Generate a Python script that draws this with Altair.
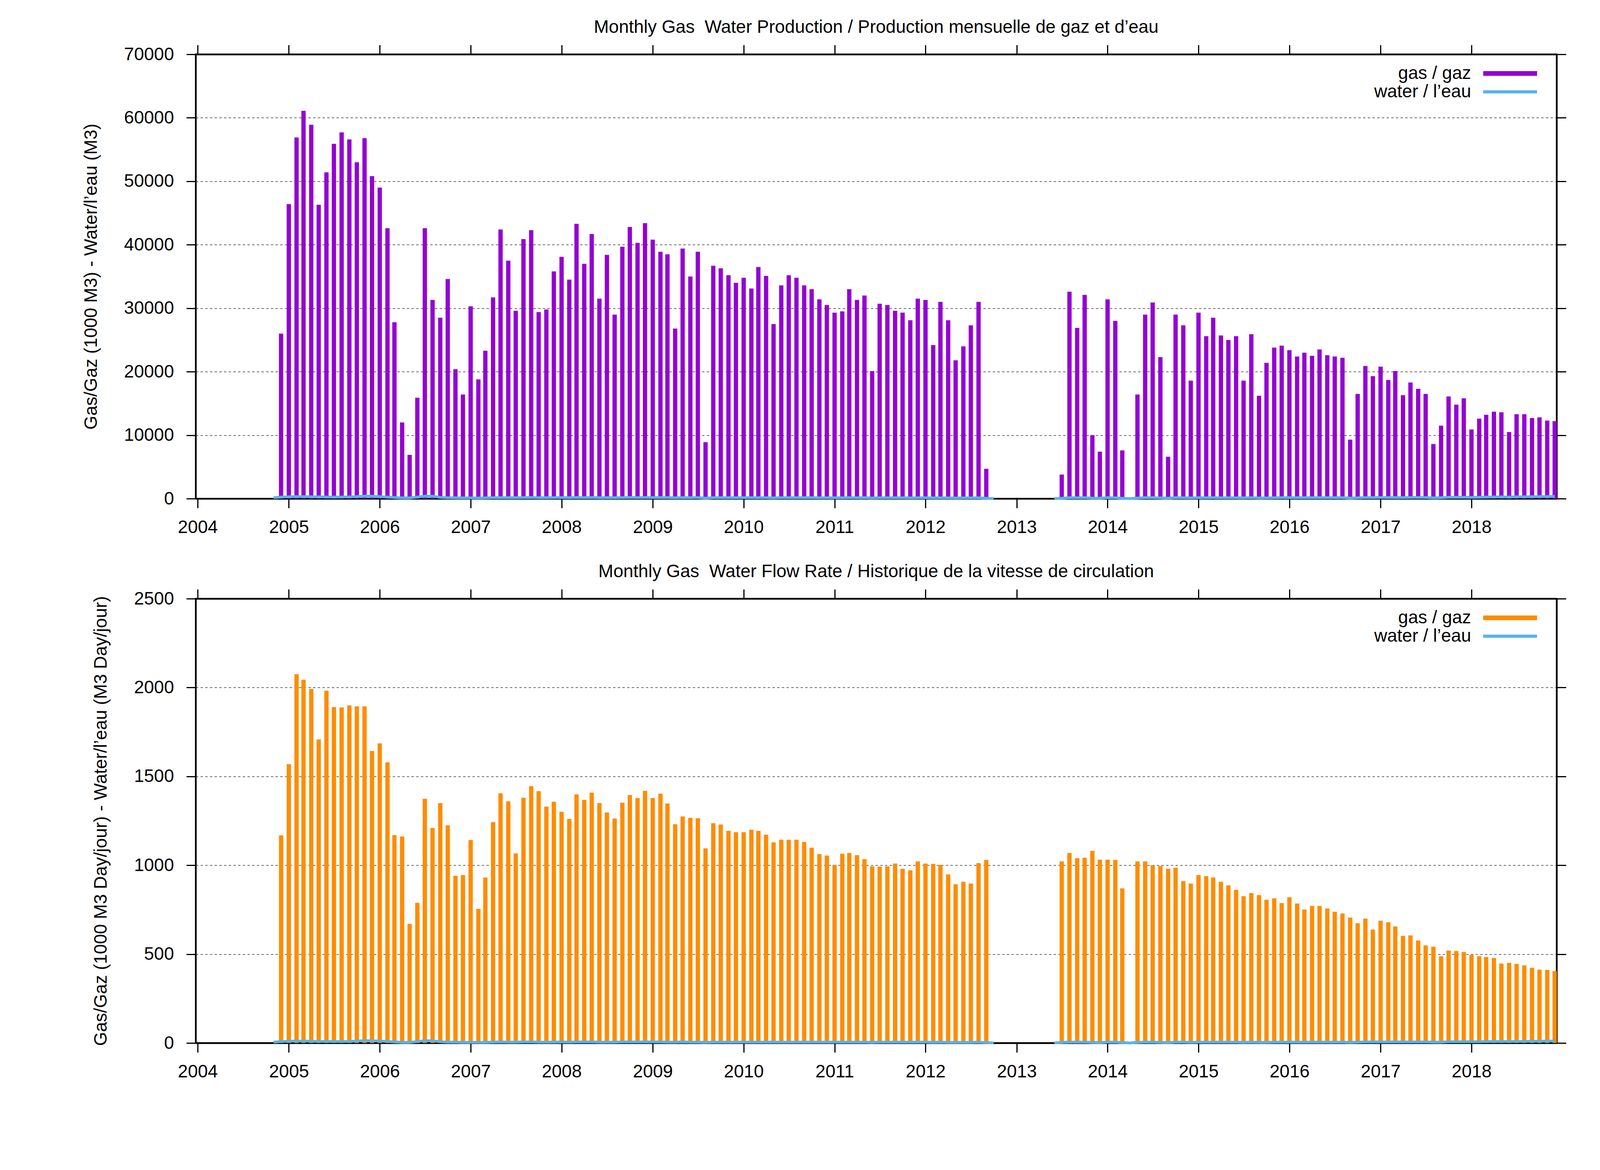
import pandas as pd
import altair as alt


# ── Data ───────────────────────────────────────────────────────────────────────

# one row per month, Nov 2004 .. Dec 2018
MONTHS = [f'{y}-{m:02d}-01' for y in range(2004, 2019) for m in range(1, 13)][10:]

# gas production, 1000 m3 (None = not reported)
GAS_PROD = [
    0, 26000,                                                                       # 2004 Nov-Dec
    46400, 56900, 61100, 58900, 46300, 51400, 55900, 57700, 56600, 53000, 56800, 50800,  # 2005
    49000, 42600, 27800, 12000, 6900, 15900, 42600, 31300, 28500, 34600, 20400, 16400,   # 2006
    30300, 18800, 23300, 31700, 42400, 37500, 29600, 40900, 42300, 29400, 29800, 35800,  # 2007
    38100, 34500, 43300, 37000, 41700, 31500, 38400, 29000, 39700, 42800, 40300, 43400,  # 2008
    40800, 38900, 38500, 26800, 39400, 35000, 38900, 8900, 36700, 36300, 35200, 34000,   # 2009
    34800, 33100, 36500, 35100, 27500, 33600, 35200, 34800, 33600, 33000, 31400, 30500,  # 2010
    29300, 29500, 33000, 31300, 32000, 20100, 30700, 30500, 29600, 29300, 28100, 31500,  # 2011
    31300, 24200, 31000, 28100, 21800, 24000, 27300, 31000, 4700, 0, None, None,         # 2012
    None, None, None, None, None, 0, 3800, 32600, 26900, 32100, 10000, 7400,             # 2013
    31400, 28000, 7600, 0, 16400, 29000, 30900, 22300, 6600, 29000, 27300, 18600,        # 2014
    29300, 25600, 28500, 25700, 25000, 25600, 18600, 25900, 16200, 21400, 23800, 24100,  # 2015
    23400, 22400, 23000, 22500, 23500, 22600, 22400, 22200, 9300, 16500, 20900, 19300,   # 2016
    20800, 18700, 20100, 16300, 18300, 17300, 16500, 8600, 11500, 16100, 14800, 15800,   # 2017
    10900, 12600, 13200, 13700, 13600, 10500, 13300, 13300, 12700, 12800, 12300, 12200,  # 2018
]

# water production, m3
WATER_PROD = [
    150, 250,
    300, 320, 330, 300, 280, 260, 250, 260, 280, 330, 420, 380,
    330, 250, 180, 120, 120, 250, 400, 380, 200, 150, 140, 130,
    120, 110, 130, 150, 170, 160, 150, 170, 180, 160, 160, 170,
    170, 160, 180, 170, 180, 160, 170, 150, 170, 180, 170, 180,
    170, 170, 170, 140, 170, 160, 170, 80, 160, 160, 160, 150,
    150, 150, 160, 160, 130, 150, 160, 150, 150, 150, 140, 140,
    140, 140, 150, 140, 150, 110, 140, 140, 140, 140, 130, 140,
    140, 120, 140, 130, 110, 120, 130, 140, 60, 0, None, None,
    None, None, None, None, None, 0, 60, 160, 140, 160, 90, 70,
    160, 140, 60, 0, 110, 150, 160, 130, 70, 150, 140, 120,
    150, 140, 150, 140, 140, 140, 120, 150, 110, 130, 140, 150,
    150, 150, 150, 150, 160, 160, 160, 160, 100, 140, 170, 170,
    180, 170, 190, 170, 190, 190, 190, 130, 160, 210, 210, 220,
    200, 220, 240, 260, 270, 250, 290, 300, 310, 330, 340, 350,
]

# gas flow rate, 1000 m3/day
GAS_RATE = [
    0, 1168,
    1569, 2075, 2044, 1992, 1708, 1982, 1890, 1888, 1900, 1894, 1894, 1643,
    1686, 1579, 1170, 1162, 670, 789, 1374, 1210, 1350, 1225, 941, 945,
    1142, 755, 931, 1243, 1405, 1360, 1067, 1380, 1445, 1417, 1330, 1358,
    1301, 1261, 1399, 1368, 1409, 1350, 1297, 1263, 1352, 1395, 1378, 1419,
    1378, 1403, 1348, 1231, 1275, 1267, 1265, 1095, 1237, 1229, 1194, 1186,
    1186, 1200, 1194, 1172, 1129, 1144, 1144, 1144, 1131, 1099, 1063, 1055,
    1002, 1065, 1069, 1057, 1034, 994, 992, 994, 1010, 980, 972, 1022,
    1010, 1008, 1002, 949, 893, 907, 897, 1012, 1030, 0, None, None,
    None, None, None, None, None, 0, 1022, 1069, 1040, 1042, 1081, 1032,
    1032, 1030, 870, 0, 1022, 1022, 1000, 996, 980, 986, 911, 897,
    945, 939, 931, 907, 887, 862, 826, 844, 832, 806, 814, 787,
    820, 785, 751, 771, 771, 757, 739, 729, 706, 674, 700, 638,
    688, 680, 656, 603, 605, 577, 549, 542, 488, 520, 518, 512,
    496, 488, 484, 478, 447, 451, 445, 437, 423, 413, 411, 405,
]

# water flow rate, m3/day
WATER_RATE = [
    5, 8,
    10, 11, 11, 10, 9, 9, 8, 8, 9, 11, 14, 12,
    11, 9, 6, 4, 4, 8, 13, 12, 7, 5, 5, 4,
    4, 4, 4, 5, 6, 5, 5, 6, 6, 5, 5, 5,
    6, 5, 6, 6, 6, 5, 5, 5, 6, 6, 6, 6,
    6, 6, 5, 5, 6, 5, 5, 4, 5, 5, 5, 5,
    5, 5, 5, 5, 5, 5, 5, 5, 5, 5, 5, 5,
    5, 5, 5, 5, 5, 4, 5, 5, 5, 5, 5, 5,
    5, 4, 5, 4, 4, 4, 4, 5, 3, 0, None, None,
    None, None, None, None, None, 0, 4, 5, 5, 5, 4, 3,
    5, 5, 3, 0, 4, 5, 5, 4, 3, 5, 5, 4,
    5, 5, 5, 5, 5, 5, 4, 5, 4, 4, 5, 5,
    5, 5, 5, 5, 5, 5, 5, 5, 4, 5, 6, 6,
    6, 6, 6, 6, 6, 6, 6, 5, 5, 7, 7, 7,
    7, 7, 8, 8, 9, 8, 9, 9, 10, 10, 11, 11,
]

YEARS = list(range(2004, 2019))

LABEL_GAS = 'gas / gaz'
LABEL_WATER = 'water / l’eau'


# ── Style ──────────────────────────────────────────────────────────────────────

FONT = 'Liberation Sans'
FS = 46
WATER_COLOR = '#56b4e9'
PLOT_W, PLOT_H = 3484, 1137

AXIS = dict(
    tickSize=24, tickWidth=3, tickColor='black',
    domainColor='black', domainWidth=4,
    labelFont=FONT, labelFontSize=FS, labelColor='black',
    titleFont=FONT, titleFontSize=FS, titleFontWeight='normal', titleColor='black',
    gridColor='#333333', gridWidth=1.5, gridDash=[6, 6],
)

YEAR_TICKS = [alt.DateTime(year=y, month=1, date=1, utc=True) for y in YEARS]
X_SCALE = alt.Scale(
    type='utc', nice=False,
    domain=[alt.DateTime(year=2004, month=1, date=1, utc=True),
            alt.DateTime(year=2018, month=12, date=1, utc=True)],
)


# ── Helpers ────────────────────────────────────────────────────────────────────

def build_frame(gas, water):
    df = pd.DataFrame({'date': MONTHS, 'gas': gas, 'water': water})
    # the water line is broken over the 2012-13 shutdown
    df['segment'] = (df['date'] >= '2013-01-01').astype(int)
    return df


def legend_row(label, color, stroke, y):
    src = pd.DataFrame({'label': [label]})
    line = alt.Chart(src).mark_rule(color=color, strokeWidth=stroke).encode(
        x=alt.value(3296), x2=alt.value(3434), y=alt.value(y),
    )
    text = alt.Chart(src).mark_text(
        align='right', baseline='middle', font=FONT, fontSize=FS, color='black',
    ).encode(x=alt.value(3265), y=alt.value(y), text='label:N')
    return line + text


def panel(df, title, ytitle, ymax, ystep, gas_color):
    yscale = alt.Scale(domain=[0, ymax], nice=False)
    yvals = list(range(0, ymax + 1, ystep))

    bars = alt.Chart(df[df['gas'] > 0]).mark_bar(size=11, color=gas_color).encode(
        x=alt.X('date:T', scale=X_SCALE, title=None,
                axis=alt.Axis(orient='bottom', values=YEAR_TICKS, format='%Y',
                              labelPadding=27, grid=False, **AXIS)),
        y=alt.Y('gas:Q', scale=yscale, title=ytitle,
                axis=alt.Axis(orient='left', values=yvals, format='d', grid=True,
                              labelPadding=32, titlePadding=60, **AXIS)),
    )

    water = alt.Chart(df[df['water'].notna()]).mark_line(
        color=WATER_COLOR, strokeWidth=7,
    ).encode(
        x=alt.X('date:T', scale=X_SCALE, title=None,
                axis=alt.Axis(orient='top', values=YEAR_TICKS, labels=False,
                              grid=False, **AXIS)),
        y=alt.Y('water:Q', scale=yscale, title=None,
                axis=alt.Axis(orient='right', values=yvals, labels=False,
                              grid=False, **AXIS)),
        detail='segment:N',
    )

    return (
        alt.layer(
            bars, water,
            legend_row(LABEL_GAS, gas_color, 12, 49),
            legend_row(LABEL_WATER, WATER_COLOR, 8, 96),
        )
        .resolve_axis(x='independent', y='independent')
        .properties(
            width=PLOT_W, height=PLOT_H,
            title=alt.TitleParams(
                text=title, font=FONT, fontSize=FS, fontWeight='normal',
                color='black', anchor='middle', offset=20,
            ),
        )
    )


# ── Chart ──────────────────────────────────────────────────────────────────────

prod = panel(
    build_frame(GAS_PROD, WATER_PROD),
    'Monthly Gas \u00a0Water Production / Production mensuelle de gaz et d’eau',
    'Gas/Gaz (1000 M3) - Water/l’eau (M3)',
    70000, 10000, '#9400d3',
)
rate = panel(
    build_frame(GAS_RATE, WATER_RATE),
    'Monthly Gas \u00a0Water Flow Rate / Historique de la vitesse de circulation',
    'Gas/Gaz (1000 M3 Day/jour) - Water/l’eau (M3 Day/jour)',
    2500, 500, '#ff8c00',
)

chart = (
    alt.vconcat(prod, rate, spacing=63)
    .properties(
        background='white',
        padding={'left': 200, 'top': 36, 'right': 5, 'bottom': 5},
    )
    .configure_view(stroke='black', strokeWidth=4)
)

chart.save('out.html', embed_options={'renderer': 'svg', 'actions': False})
